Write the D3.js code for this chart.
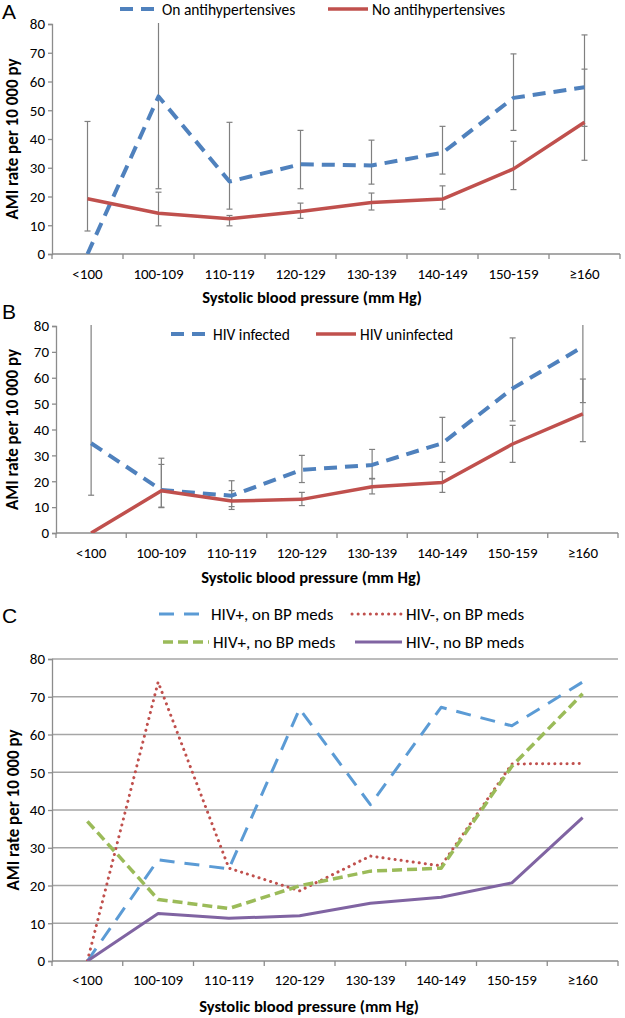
<!DOCTYPE html>
<html>
<head>
<meta charset="utf-8">
<script src="https://cdn.jsdelivr.net/npm/d3@7"></script>
<style>
  body { margin: 0; background: #fff; }
  svg { display: block; font-family: Carlito, Lato, sans-serif; }
</style>
</head>
<body>
<svg id="chart" width="625" height="1018"></svg>
<script>
const categories = ["<100", "100-109", "110-119", "120-129", "130-139", "140-149", "150-159", "≥160"]
const yTicks = [0, 10, 20, 30, 40, 50, 60, 70, 80]

// panel A
const aOnMeds = [0, 54.8, 25.2, 31.2, 30.8, 35.2, 54.3, 58.0]
const aNoMeds = [19.2, 14.2, 12.3, 14.8, 17.9, 19.1, 29.6, 45.8]
const aOnMedsLow = [null, 22.7, 15.6, 22.7, 24.3, 27.8, 43.0, 44.4]
const aOnMedsHigh = [null, 100, 45.8, 43.0, 39.6, 44.4, 69.6, 76.2]
const aNoMedsLow = [8.0, 9.8, 9.8, 12.4, 15.3, 15.6, 22.4, 32.6]
const aNoMedsHigh = [46.1, 21.5, 13.4, 17.7, 21.2, 23.7, 39.2, 64.3]

// panel B
const bHiv = [34.7, 16.6, 14.4, 24.4, 26.3, 34.7, 55.9, 72.0]
const bNoHiv = [0, 16.3, 12.4, 13.0, 17.9, 19.5, 34.4, 46.0]
const bHivLow = [14.6, 9.8, 10.2, 19.5, 21.1, 27.3, 43.3, 50.4]
const bHivHigh = [100, 28.9, 20.2, 30.0, 32.3, 44.7, 75.4, 100]
const bNoHivLow = [null, 10.0, 9.1, 10.6, 15.1, 15.7, 27.3, 35.3]
const bNoHivHigh = [null, 26.5, 16.4, 15.7, 20.9, 23.7, 41.6, 59.5]

// panel C
const cHivOnMeds = [0, 26.8, 24.4, 66.8, 41.4, 67.2, 62.3, 73.9]
const cNoHivOnMeds = [0, 73.9, 24.6, 18.6, 27.8, 25.2, 52.2, 52.3]
const cHivNoMeds = [37.0, 16.3, 13.9, 19.9, 23.8, 24.6, 51.6, 70.8]
const cNoHivNoMeds = [0, 12.6, 11.3, 12.0, 15.3, 16.9, 20.7, 38.0]

const blue = "#4f81bd", red = "#c0504d", green = "#9bbb59", purple = "#8064a2"
const axisGray = "#8c8c8c"

const svg = d3.select("#chart")
svg.append("rect").attr("width", 625).attr("height", 1018).attr("fill", "#fff")

let clipId = 0

function drawPanel(p) {
    const x = d3.scaleBand(categories, [p.left, p.right])
    const y = d3.scaleLinear([0, 80], [p.bottom, p.top])
    const g = svg.append("g")

    const clip = "clip" + (clipId++)
    g.append("clipPath").attr("id", clip)
        .append("rect")
        .attr("x", p.left).attr("y", p.top - 1)
        .attr("width", p.right - p.left).attr("height", p.bottom - p.top + 1)

    // panel letter
    g.append("text").attr("x", 2).attr("y", p.letterY)
        .attr("font-family", "Liberation Sans, sans-serif")
        .attr("font-size", 21).text(p.letter)

    if (p.grid) {
        g.append("g").selectAll("line").data(yTicks.slice(1)).join("line")
            .attr("x1", p.left).attr("x2", p.right)
            .attr("y1", d => y(d)).attr("y2", d => y(d))
            .attr("stroke", "#a6a6a6").attr("stroke-width", 1.3)
    }

    // y axis
    const yAxis = g.append("g")
        .attr("transform", `translate(${p.left},0)`)
        .call(d3.axisLeft(y).tickValues(yTicks).tickSize(4).tickPadding(3))
    yAxis.selectAll("path, line").attr("stroke", axisGray).attr("stroke-width", 1.3)
    yAxis.selectAll("text").attr("font-size", 15).attr("fill", "#000")
        .attr("font-family", "Carlito, Lato, sans-serif")

    // x axis with ticks at band boundaries
    const xg = g.append("g")
    xg.append("line").attr("x1", p.left).attr("x2", p.right)
        .attr("y1", p.bottom).attr("y2", p.bottom)
        .attr("stroke", axisGray).attr("stroke-width", 1.3)
    const bounds = categories.map(c => x(c)).concat([p.right])
    xg.selectAll("line.tk").data(bounds).join("line").attr("class", "tk")
        .attr("x1", d => d).attr("x2", d => d)
        .attr("y1", p.bottom).attr("y2", p.bottom + 5)
        .attr("stroke", axisGray).attr("stroke-width", 1.3)
    xg.selectAll("text").data(categories).join("text")
        .attr("x", d => x(d) + x.bandwidth() / 2)
        .attr("y", p.xLabelY)
        .attr("text-anchor", "middle").attr("font-size", 15)
        .text(d => d)

    g.append("text")
        .attr("x", (p.left + p.right) / 2 + p.titleShift).attr("y", p.titleY)
        .attr("text-anchor", "middle").attr("font-size", 16.5).attr("font-weight", "bold")
        .text("Systolic blood pressure (mm Hg)")

    g.append("text")
        .attr("transform", `translate(${p.yTitleX},${(p.top + p.bottom) / 2}) rotate(-90)`)
        .attr("text-anchor", "middle").attr("dominant-baseline", "central")
        .attr("font-size", 17).attr("font-weight", "bold")
        .text("AMI rate per 10 000 py")

    const cx = i => x(categories[i]) + x.bandwidth() / 2
    const plot = g.append("g").attr("clip-path", `url(#${clip})`)

    // error bars
    ;(p.errors || []).forEach(e => {
        const idx = d3.range(categories.length).filter(i => e.low[i] != null)
        const eb = plot.append("g").attr("stroke", "#808080").attr("stroke-width", 1.2)
        eb.selectAll("line.v").data(idx).join("line").attr("class", "v")
            .attr("x1", cx).attr("x2", cx)
            .attr("y1", i => y(e.low[i])).attr("y2", i => y(e.high[i]))
        eb.selectAll("line.lo").data(idx).join("line").attr("class", "lo")
            .attr("x1", i => cx(i) - 3).attr("x2", i => cx(i) + 3)
            .attr("y1", i => y(e.low[i])).attr("y2", i => y(e.low[i]))
        eb.selectAll("line.hi").data(idx).join("line").attr("class", "hi")
            .attr("x1", i => cx(i) - 3).attr("x2", i => cx(i) + 3)
            .attr("y1", i => y(e.high[i])).attr("y2", i => y(e.high[i]))
    })

    const line = d3.line().x((d, i) => cx(i)).y(d => y(d))
    p.series.forEach(s => {
        plot.append("path").datum(s.values)
            .attr("d", line)
            .attr("fill", "none")
            .attr("stroke", s.color)
            .attr("stroke-width", s.width)
            .attr("stroke-dasharray", s.dash)
            .attr("stroke-linecap", s.cap || "butt")
            .attr("stroke-linejoin", "round")
    })

    // legend
    p.series.forEach(s => {
        const lg = g.append("g").attr("transform", `translate(${s.lx},${s.ly})`)
        lg.append("line").attr("x1", 0).attr("x2", s.lw).attr("y1", 0).attr("y2", 0)
            .attr("stroke", s.color).attr("stroke-width", s.width)
            .attr("stroke-dasharray", s.dash)
            .attr("stroke-linecap", s.cap || "butt")
        lg.append("text").attr("x", s.lw + 4).attr("y", 0)
            .attr("dominant-baseline", "central")
            .attr("font-size", p.legendSize)
            .text(s.name)
    })
}

drawPanel({
    letter: "A", letterY: 19,
    left: 52, right: 620, top: 24, bottom: 254,
    xLabelY: 279, titleY: 303, titleShift: -24, yTitleX: 12,
    legendSize: 15.5,
    series: [
        {name: "On antihypertensives", values: aOnMeds, color: blue, width: 4, dash: "13,8", lx: 120, ly: 9, lw: 38},
        {name: "No antihypertensives", values: aNoMeds, color: red, width: 3.5, dash: null, lx: 328, ly: 9, lw: 40},
    ],
    errors: [
        {low: aNoMedsLow, high: aNoMedsHigh},
        {low: aOnMedsLow, high: aOnMedsHigh},
    ],
})

drawPanel({
    letter: "B", letterY: 319,
    left: 56, right: 618, top: 326, bottom: 533,
    xLabelY: 558, titleY: 583, titleShift: -26, yTitleX: 12,
    legendSize: 15.5,
    series: [
        {name: "HIV infected", values: bHiv, color: blue, width: 4, dash: "13,8", lx: 171, ly: 334, lw: 38},
        {name: "HIV uninfected", values: bNoHiv, color: red, width: 3.5, dash: null, lx: 316, ly: 334, lw: 40},
    ],
    errors: [
        {low: bHivLow, high: bHivHigh},
        {low: bNoHivLow, high: bNoHivHigh},
    ],
})

drawPanel({
    letter: "C", letterY: 623,
    left: 52, right: 618, top: 659, bottom: 961,
    xLabelY: 985, titleY: 1012, titleShift: -26, yTitleX: 13,
    legendSize: 17, grid: true,
    series: [
        {name: "HIV+, on  BP meds", values: cHivOnMeds, color: "#5b9bd5", width: 3, dash: "15,10", lx: 159, ly: 614, lw: 48},
        {name: "HIV-, on BP meds", values: cNoHivOnMeds, color: red, width: 3, dash: "0.1,6", cap: "round", lx: 352, ly: 614, lw: 50},
        {name: "HIV+, no BP meds", values: cHivNoMeds, color: green, width: 3.5, dash: "10,5", lx: 163, ly: 642, lw: 46},
        {name: "HIV-, no BP meds", values: cNoHivNoMeds, color: purple, width: 3, dash: null, lx: 355, ly: 642, lw: 47},
    ],
})
</script>
</body>
</html>
